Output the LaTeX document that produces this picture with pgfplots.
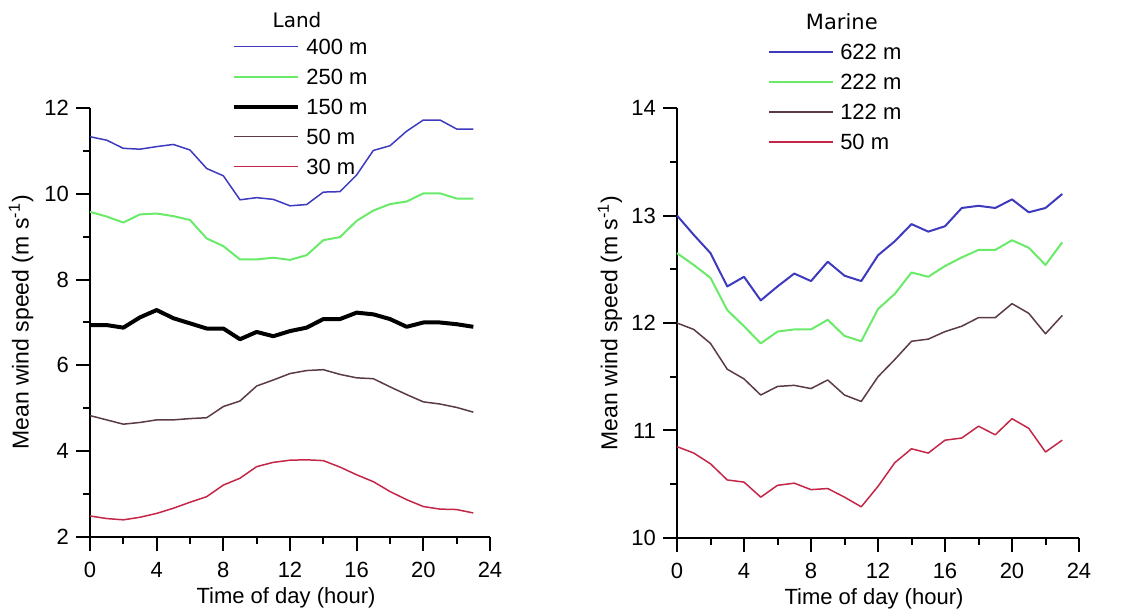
\documentclass[border=0pt]{standalone}
\usepackage{pgfplots}
\pgfplotsset{compat=1.18}
\usepackage{fontspec}
\setmainfont{Liberation Sans}
\newfontfamily\titlefont{DejaVu Sans}

\definecolor{cblue}{RGB}{62,58,190}
\definecolor{cgreen}{RGB}{105,235,105}
\definecolor{cdark}{RGB}{90,58,72}
\definecolor{cred}{RGB}{196,38,72}

\pgfplotsset{
  wind/.style={
    scale only axis,
    anchor=south west,
    axis x line=bottom,
    axis y line=left,
    axis line style={-, line width=1pt},
    tick style={line width=1pt, black},
    tick align=outside,
    major tick length=7pt,
    minor tick length=3.5pt,
    xmin=0, xmax=24,
    xtick={0,4,...,24},
    minor xtick={2,6,...,22},
    tick label style={font=\fontsize{11}{13}\selectfont},
    xticklabel style={yshift=-2pt},
    /pgf/number format/assume math mode=true,
    xlabel={Time of day (hour)},
    ylabel={Mean wind speed (m s\textsuperscript{-1})},
    every axis x label/.style={at={(axis description cs:0.49,-0.142)}, anchor=center,
      font=\fontsize{11}{13}\selectfont},
    clip=false,
    legend cell align=left,
    legend image code/.code={\draw[##1] (0pt,0pt) -- (32pt,0pt);},
    legend style={draw=none, fill=none, inner sep=0pt, anchor=north west,
      nodes={inner sep=0pt, text height=8.5pt, text depth=1pt,
        font=\fontsize{11}{13}\selectfont},
      row sep=5.5pt, /tikz/column sep=3pt},
    every axis plot/.append style={mark=none, line join=round},
  }
}

\begin{document}
\begin{tikzpicture}
\useasboundingbox (0,0) rectangle (563pt,305.5pt);

% Land
\begin{axis}[wind,
  at={(45pt,37pt)}, width=200pt, height=214.5pt,
  ymin=2, ymax=12,
  ytick={2,4,...,12}, minor ytick={3,5,...,11},
  every axis y label/.style={at={(axis description cs:-0.1725,0.5)}, rotate=90, anchor=center,
    font=\fontsize{11.5}{13}\selectfont},
  legend style={at={(axis description cs:0.355,1.166)}},
]
\addplot[cblue, line width=0.75pt] coordinates {
(0,11.33) (1,11.25) (2,11.06) (3,11.04) (4,11.10) (5,11.15) (6,11.02) (7,10.59)
(8,10.42) (9,9.86) (10,9.91) (11,9.87) (12,9.72) (13,9.75) (14,10.04) (15,10.05)
(16,10.44) (17,11.01) (18,11.12) (19,11.46) (20,11.72) (21,11.72) (22,11.51) (23,11.51)};
\addlegendentry{400 m}
\addplot[cgreen, line width=1pt] coordinates {
(0,9.58) (1,9.47) (2,9.33) (3,9.52) (4,9.54) (5,9.48) (6,9.39) (7,8.96)
(8,8.78) (9,8.47) (10,8.47) (11,8.51) (12,8.46) (13,8.57) (14,8.92) (15,8.99)
(16,9.37) (17,9.61) (18,9.76) (19,9.82) (20,10.01) (21,10.01) (22,9.89) (23,9.89)};
\addlegendentry{250 m}
\addplot[black, line width=2pt] coordinates {
(0,6.94) (1,6.94) (2,6.88) (3,7.12) (4,7.29) (5,7.10) (6,6.98) (7,6.86)
(8,6.86) (9,6.61) (10,6.78) (11,6.68) (12,6.80) (13,6.88) (14,7.08) (15,7.08)
(16,7.23) (17,7.19) (18,7.08) (19,6.90) (20,7.00) (21,7.00) (22,6.96) (23,6.90)};
\addlegendentry{150 m}
\addplot[cdark, line width=0.75pt] coordinates {
(0,4.83) (1,4.73) (2,4.63) (3,4.67) (4,4.73) (5,4.73) (6,4.76) (7,4.78)
(8,5.04) (9,5.17) (10,5.52) (11,5.66) (12,5.81) (13,5.88) (14,5.90) (15,5.79)
(16,5.71) (17,5.69) (18,5.50) (19,5.32) (20,5.15) (21,5.10) (22,5.02) (23,4.91)};
\addlegendentry{50 m}
\addplot[cred, line width=0.75pt] coordinates {
(0,2.49) (1,2.43) (2,2.40) (3,2.46) (4,2.55) (5,2.67) (6,2.81) (7,2.94)
(8,3.21) (9,3.37) (10,3.64) (11,3.74) (12,3.79) (13,3.80) (14,3.78) (15,3.63)
(16,3.45) (17,3.29) (18,3.06) (19,2.87) (20,2.71) (21,2.65) (22,2.64) (23,2.56)};
\addlegendentry{30 m}
\node[font=\titlefont\fontsize{10}{12}\selectfont] at (axis description cs:0.5175,1.205) {Land};
\end{axis}

% Marine
\begin{axis}[wind,
  at={(338.5pt,36.5pt)}, width=201pt, height=215pt,
  ymin=10, ymax=14,
  ytick={10,11,...,14}, minor ytick={10.5,11.5,...,13.5},
  every axis y label/.style={at={(axis description cs:-0.1667,0.5)}, rotate=90, anchor=center,
    font=\fontsize{11.5}{13}\selectfont},
  legend style={at={(axis description cs:0.226,1.153)}},
]
\addplot[cblue, line width=1pt] coordinates {
(0,13.00) (1,12.82) (2,12.65) (3,12.34) (4,12.43) (5,12.21) (6,12.34) (7,12.46)
(8,12.39) (9,12.57) (10,12.44) (11,12.39) (12,12.63) (13,12.76) (14,12.92) (15,12.85)
(16,12.90) (17,13.07) (18,13.09) (19,13.07) (20,13.15) (21,13.03) (22,13.07) (23,13.20)};
\addlegendentry{622 m}
\addplot[cgreen, line width=1pt] coordinates {
(0,12.65) (1,12.54) (2,12.42) (3,12.12) (4,11.97) (5,11.81) (6,11.92) (7,11.94)
(8,11.94) (9,12.03) (10,11.88) (11,11.83) (12,12.13) (13,12.27) (14,12.47) (15,12.43)
(16,12.53) (17,12.61) (18,12.68) (19,12.68) (20,12.77) (21,12.70) (22,12.54) (23,12.75)};
\addlegendentry{222 m}
\addplot[cdark, line width=0.75pt] coordinates {
(0,12.00) (1,11.94) (2,11.81) (3,11.57) (4,11.48) (5,11.33) (6,11.41) (7,11.42)
(8,11.39) (9,11.47) (10,11.33) (11,11.27) (12,11.50) (13,11.66) (14,11.83) (15,11.85)
(16,11.92) (17,11.97) (18,12.05) (19,12.05) (20,12.18) (21,12.09) (22,11.90) (23,12.07)};
\addlegendentry{122 m}
\addplot[cred, line width=0.75pt] coordinates {
(0,10.85) (1,10.79) (2,10.69) (3,10.54) (4,10.52) (5,10.38) (6,10.49) (7,10.51)
(8,10.45) (9,10.46) (10,10.38) (11,10.29) (12,10.48) (13,10.70) (14,10.83) (15,10.79)
(16,10.91) (17,10.93) (18,11.04) (19,10.96) (20,11.11) (21,11.02) (22,10.80) (23,10.91)};
\addlegendentry{50 m}
\node[font=\titlefont\fontsize{10.5}{12}\selectfont] at (axis description cs:0.41,1.2) {Marine};
\end{axis}
\end{tikzpicture}
\end{document}
